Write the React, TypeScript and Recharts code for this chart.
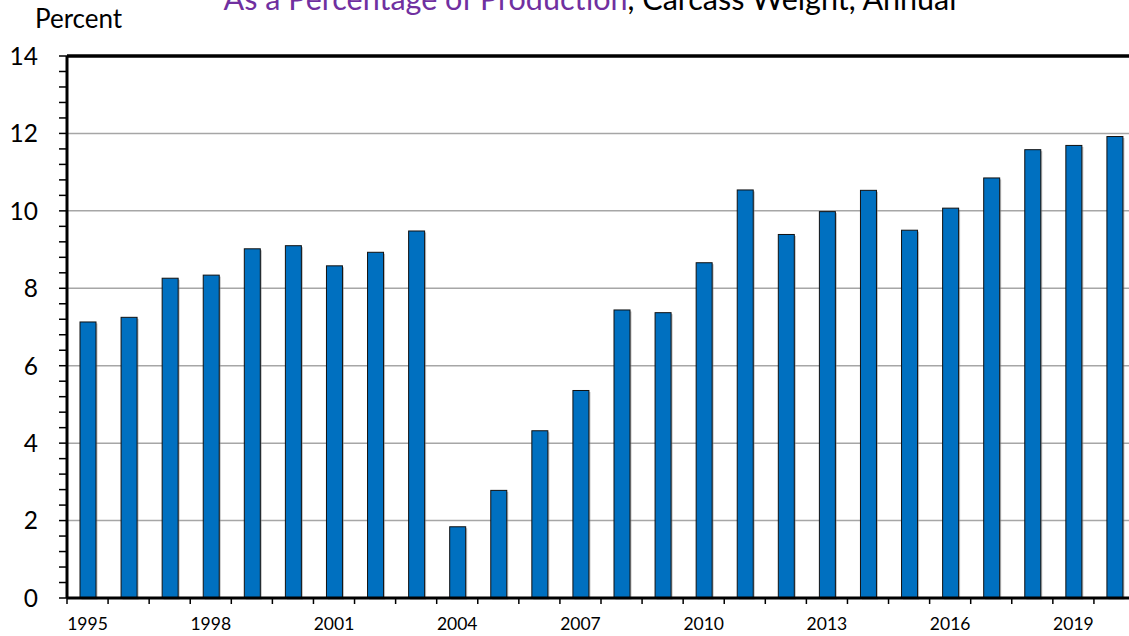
import React from 'react';
import { BarChart, Bar, XAxis, YAxis, CartesianGrid, ReferenceLine } from 'recharts';

const years = [
  '1995', '1996', '1997', '1998', '1999', '2000', '2001', '2002', '2003', '2004', '2005', '2006', '2007',
  '2008', '2009', '2010', '2011', '2012', '2013', '2014', '2015', '2016', '2017', '2018', '2019', '2020',
];
const percentOfProduction = [
  7.13, 7.25, 8.26, 8.34, 9.02, 9.1, 8.58, 8.93, 9.48, 1.84, 2.78, 4.32, 5.36,
  7.44, 7.37, 8.66, 10.54, 9.39, 9.98, 10.53, 9.5, 10.07, 10.85, 11.58, 11.69, 11.92,
];
const xTickLabels = ['1995', '1998', '2001', '2004', '2007', '2010', '2013', '2016', '2019'];
const yTickLabels = [0, 2, 4, 6, 8, 10, 12, 14];
const gridValues = [2, 4, 6, 8, 10, 12];

const data = years.map((year, i) => ({ year, value: percentOfProduction[i] }));
// minor ticks every 0.4 on the value axis
const yMinorTicks = Array.from({ length: 36 }, (_, i) => Math.round(i * 4) / 10);

const FONT = 'Lato, "Open Sans", sans-serif';
const CHART_W = 1140;
const LEFT = 67;
const RIGHT = 5;
const BAND = (CHART_W - LEFT - RIGHT) / years.length;

const YTick = (props: any) => {
  const { x, y, payload } = props;
  const v = payload.value;
  if (!yTickLabels.some((t) => Math.abs(t - v) < 1e-6)) return null;
  return (
    <text x={x} y={y} dy="0.36em" textAnchor="end" fontFamily={FONT} fontSize={24.5} fill="#000">
      {Math.round(v)}
    </text>
  );
};

const XTick = (props: any) => {
  const { x, y, payload, index } = props;
  const left = x - BAND / 2;
  return (
    <g>
      <line x1={left} y1={y} x2={left} y2={y + 6} stroke="#000" strokeWidth={1.5} />
      {index === years.length - 1 && (
        <line x1={x + BAND / 2} y1={y} x2={x + BAND / 2} y2={y + 6} stroke="#000" strokeWidth={1.5} />
      )}
      {xTickLabels.includes(payload.value) && (
        <text x={x} y={y + 32} textAnchor="middle" fontFamily={FONT} fontSize={17.5} fill="#000">
          {payload.value}
        </text>
      )}
    </g>
  );
};

const ShadowBar = (props: any) => {
  const { x, y, width, height } = props;
  if (!height) return null;
  return (
    <g>
      <rect x={x + 1.5} y={y + 1.5} width={width} height={height} fill="#8c8c8c" opacity={0.55} />
      <rect x={x} y={y} width={width} height={height} fill="#0070C0" stroke="#111" strokeWidth={1} />
    </g>
  );
};

const App = () => {
  return (
    <div style={{ position: 'absolute', left: 0, top: 0, width: 1129, height: 636, overflow: 'hidden', background: '#fff' }}>
      <BarChart
        width={CHART_W}
        height={636}
        data={data}
        margin={{ top: 56, right: RIGHT, left: 0, bottom: 0 }}
        barSize={16}
      >
        <CartesianGrid vertical={false} horizontalValues={gridValues} stroke="#a6a6a6" strokeWidth={1.5} />
        <XAxis
          dataKey="year"
          interval={0}
          height={38}
          tickSize={0}
          tickMargin={0}
          tickLine={false}
          axisLine={{ stroke: '#000', strokeWidth: 3 }}
          tick={<XTick />}
        />
        <YAxis
          width={LEFT}
          domain={[0, 14]}
          ticks={yMinorTicks}
          interval={0}
          tickSize={8}
          tickMargin={21}
          tickLine={{ stroke: '#000', strokeWidth: 1.5 }}
          axisLine={{ stroke: '#000', strokeWidth: 3 }}
          tick={<YTick />}
        />
        <ReferenceLine y={14} stroke="#000" strokeWidth={3.5} />
        <Bar dataKey="value" shape={<ShadowBar />} isAnimationActive={false} />
      </BarChart>
      <svg width={1129} height={60} style={{ position: 'absolute', left: 0, top: 0 }}>
        <text x={590} y={10} textAnchor="middle" fontFamily={FONT} fontSize={30.5}>
          <tspan fill="#7030A0">As a Percentage of Production</tspan>
          <tspan fill="#000">, Carcass Weight, Annual</tspan>
        </text>
        <text x={35} y={28} fontFamily={FONT} fontSize={26} fill="#000">
          Percent
        </text>
      </svg>
    </div>
  );
};

export default App;
